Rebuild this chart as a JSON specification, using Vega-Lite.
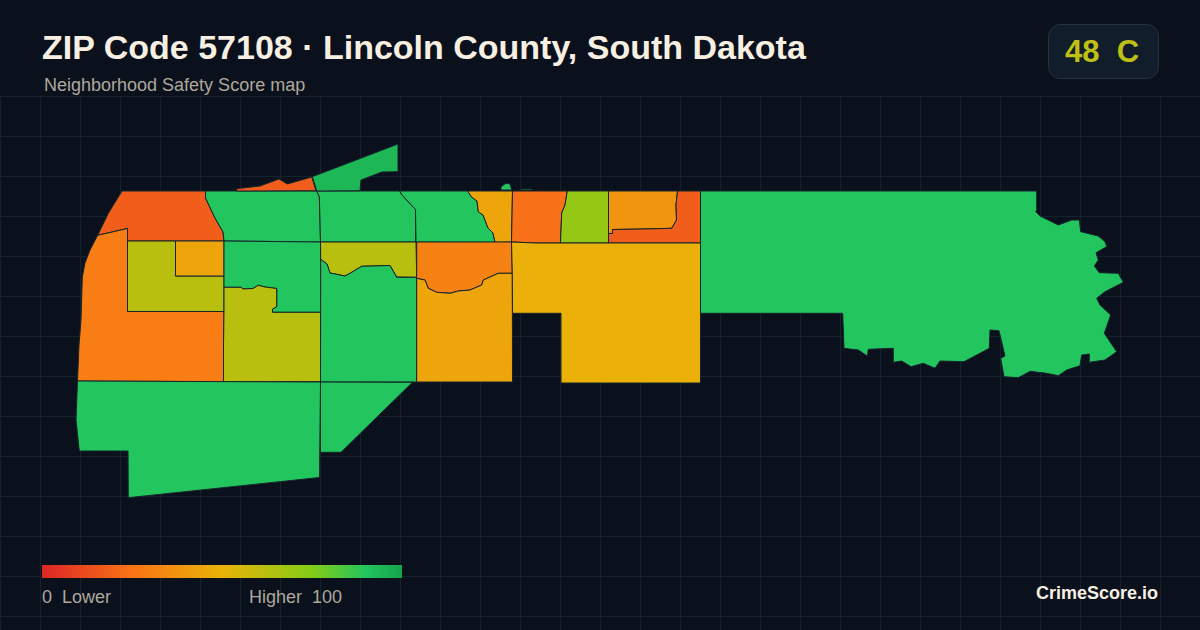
{
  "$schema": "https://vega.github.io/schema/vega-lite/v6.json",
  "width": 1200,
  "height": 630,
  "padding": 0,
  "autosize": "none",
  "background": "#0a111c",
  "data": {"values": [{}]},
  "layer": [
    {
      "mark": {"type": "rect", "fill": "#0a111c"},
      "encoding": {
        "x": {"datum": 0, "type": "quantitative", "scale": {"domain": [0, 1200], "nice": false, "zero": false},
          "axis": {"values": [0,40,80,120,160,200,240,280,320,360,400,440,480,520,560,600,640,680,720,760,800,840,880,920,960,1000,1040,1080,1120,1160],
            "grid": true, "gridColor": "#14232d", "gridWidth": 1, "labels": false, "ticks": false, "domain": false, "title": null}},
        "x2": {"datum": 1200},
        "y": {"datum": 0, "type": "quantitative", "scale": {"domain": [0, 630], "range": [0, 630], "nice": false, "zero": false},
          "axis": {"values": [96,136,176,216,256,296,336,376,416,456,496,536,576,616],
            "grid": true, "gridColor": "#14232d", "gridWidth": 1, "labels": false, "ticks": false, "domain": false, "title": null}},
        "y2": {"datum": 96}
      }
    },
    {
      "data": {"values": [
        {"type": "Feature", "properties": {"score": 18}, "geometry": {"type": "Polygon", "coordinates": [[[12.2,19.1],[20.55,19.1],[20.55,19.8],[21.5,21.8],[22.3,23.2],[22.4,24.1],[12.75,24.1],[12.75,22.85],[9.77,23.53],[10.83,21.33],[12.2,19.1]]]}},
        {"type": "Feature", "properties": {"score": 29}, "geometry": {"type": "Polygon", "coordinates": [[[9.77,23.53],[12.75,22.85],[12.75,31.15],[22.4,31.15],[22.35,34.5],[22.35,38.17],[7.75,38.1],[7.9,34.5],[8.1,32],[8.23,27.7],[8.5,26.3],[9,25],[9.77,23.53]]]}},
        {"type": "Feature", "properties": {"score": 62}, "geometry": {"type": "Polygon", "coordinates": [[[12.75,24.1],[17.55,24.1],[17.55,27.6],[22.4,27.6],[22.4,31.15],[12.75,31.15],[12.75,24.1]]]}},
        {"type": "Feature", "properties": {"score": 44}, "geometry": {"type": "Polygon", "coordinates": [[[17.55,24.1],[22.4,24.1],[22.4,27.6],[17.55,27.6],[17.55,24.1]]]}},
        {"type": "Feature", "properties": {"score": 90}, "geometry": {"type": "Polygon", "coordinates": [[[20.55,19.1],[31.67,19.1],[31.93,19.67],[32,22.1],[32.05,24.2],[27.25,24.2],[27.25,24.15],[22.4,24.1],[22.3,23.2],[21.5,21.8],[20.55,19.8],[20.55,19.1]]]}},
        {"type": "Feature", "properties": {"score": 90}, "geometry": {"type": "Polygon", "coordinates": [[[31.67,19.1],[39.97,19.1],[40.2,19.5],[41.55,20.95],[41.55,24.2],[32.05,24.2],[32,22.1],[31.93,19.67],[31.67,19.1]]]}},
        {"type": "Feature", "properties": {"score": 94}, "geometry": {"type": "Polygon", "coordinates": [[[31.23,17.67],[39.8,14.4],[39.8,17.17],[38.2,17.2],[36.1,18],[36,19.07],[31.67,19.1],[31.23,17.67]]]}},
        {"type": "Feature", "properties": {"score": 18}, "geometry": {"type": "Polygon", "coordinates": [[[23.67,18.87],[26,18.6],[27.9,17.9],[28.73,18.4],[31.17,17.7],[31.6,19.07],[23.67,19.1],[23.67,18.87]]]}},
        {"type": "Feature", "properties": {"score": 90}, "geometry": {"type": "Polygon", "coordinates": [[[22.4,24.1],[27.25,24.15],[32.05,24.2],[32.05,31.23],[27.25,31.23],[27.25,30.9],[27.67,30.67],[27.67,28.85],[26.5,28.7],[25.83,28.53],[25.3,28.85],[24.3,28.9],[24.1,28.73],[22.4,28.73],[22.4,24.1]]]}},
        {"type": "Feature", "properties": {"score": 62}, "geometry": {"type": "Polygon", "coordinates": [[[22.4,28.73],[24.1,28.73],[24.3,28.9],[25.3,28.85],[25.83,28.53],[26.5,28.7],[27.67,28.85],[27.67,30.67],[27.25,30.9],[27.25,31.23],[32.05,31.23],[32.05,38.17],[22.35,38.17],[22.35,34.5],[22.4,31.1],[22.4,28.73]]]}},
        {"type": "Feature", "properties": {"score": 62}, "geometry": {"type": "Polygon", "coordinates": [[[32.05,24.2],[41.6,24.2],[41.67,27.73],[39.67,27.7],[39,26.55],[36.17,26.63],[35,27.33],[34.5,27.6],[33,27.3],[32.7,26.4],[32.07,25.93],[32.05,24.2]]]}},
        {"type": "Feature", "properties": {"score": 90}, "geometry": {"type": "Polygon", "coordinates": [[[32.07,25.93],[32.7,26.4],[33,27.3],[34.5,27.6],[35,27.33],[36.17,26.63],[39,26.55],[39.67,27.73],[41.67,27.73],[41.67,38.2],[32.05,38.2],[32.07,25.93]]]}},
        {"type": "Feature", "properties": {"score": 90}, "geometry": {"type": "Polygon", "coordinates": [[[7.75,38.1],[32.05,38.2],[31.95,47.75],[12.83,49.77],[12.8,45.1],[7.93,45.1],[7.6,42],[7.75,38.1]]]}},
        {"type": "Feature", "properties": {"score": 90}, "geometry": {"type": "Polygon", "coordinates": [[[32.05,38.2],[41.25,38.23],[34.1,45.23],[32.05,45.23],[32.05,38.2]]]}},
        {"type": "Feature", "properties": {"score": 90}, "geometry": {"type": "Polygon", "coordinates": [[[39.97,19.1],[46.77,19.1],[47.15,19.7],[47.7,20.1],[47.83,21.17],[48.3,21.5],[48.8,22.8],[49.3,23.3],[49.5,24.23],[41.6,24.2],[41.55,20.95],[40.2,19.5],[39.97,19.1]]]}},
        {"type": "Feature", "properties": {"score": 44}, "geometry": {"type": "Polygon", "coordinates": [[[46.77,19.1],[51.25,19.1],[51.15,24.2],[49.5,24.23],[49.3,23.3],[48.8,22.8],[48.3,21.5],[47.83,21.17],[47.7,20.1],[47.15,19.7],[46.77,19.1]]]}},
        {"type": "Feature", "properties": {"score": 24}, "geometry": {"type": "Polygon", "coordinates": [[[51.25,19.1],[56.73,19.1],[56.5,20.5],[56.17,21.3],[56.05,24.3],[53.6,24.3],[51.15,24.2],[51.25,19.1]]]}},
        {"type": "Feature", "properties": {"score": 71}, "geometry": {"type": "Polygon", "coordinates": [[[56.73,19.1],[60.85,19.1],[60.85,24.3],[56.05,24.3],[56.17,21.3],[56.5,20.5],[56.73,19.1]]]}},
        {"type": "Feature", "properties": {"score": 38}, "geometry": {"type": "Polygon", "coordinates": [[[60.85,19.1],[67.75,19.1],[67.6,20.5],[67.65,22],[67.17,22.83],[64.3,22.9],[61.25,22.95],[61.25,23.35],[60.85,23.35],[60.85,19.1]]]}},
        {"type": "Feature", "properties": {"score": 18}, "geometry": {"type": "Polygon", "coordinates": [[[67.75,19.1],[70.05,19.1],[70.05,24.3],[60.85,24.3],[60.85,23.35],[61.25,23.35],[61.25,22.95],[64.3,22.9],[67.17,22.83],[67.65,22],[67.6,20.5],[67.75,19.1]]]}},
        {"type": "Feature", "properties": {"score": 31}, "geometry": {"type": "Polygon", "coordinates": [[[41.67,24.2],[51.15,24.2],[51.23,27.33],[49.83,27.33],[48.33,28],[48.17,28.5],[47,29],[45.83,29.1],[45,29.33],[43.67,29.23],[42.83,28.83],[42.5,28],[41.67,27.83],[41.67,24.2]]]}},
        {"type": "Feature", "properties": {"score": 44}, "geometry": {"type": "Polygon", "coordinates": [[[41.67,27.83],[42.5,28],[42.83,28.83],[43.67,29.23],[45,29.33],[45.83,29.1],[47,29],[48.17,28.5],[48.33,28],[49.83,27.33],[51.23,27.33],[51.25,38.2],[41.67,38.2],[41.67,27.83]]]}},
        {"type": "Feature", "properties": {"score": 49}, "geometry": {"type": "Polygon", "coordinates": [[[51.15,24.2],[53.6,24.3],[70.05,24.3],[70.05,38.3],[56.1,38.3],[56.1,31.33],[51.25,31.33],[51.23,27.33],[51.15,24.2]]]}},
        {"type": "Feature", "properties": {"score": 90}, "geometry": {"type": "Polygon", "coordinates": [[[50.1,18.67],[50.6,18.33],[51,18.4],[51.17,19],[50.1,19],[50.1,18.67]]]}},
        {"type": "Feature", "properties": {"score": 90}, "geometry": {"type": "Polygon", "coordinates": [[[52.07,19],[52.1,18.9],[53.2,18.9],[53.23,19],[52.07,19]]]}},
        {"type": "Feature", "properties": {"score": 90}, "geometry": {"type": "Polygon", "coordinates": [[[70.05,19.1],[103.67,19.1],[103.67,21],[103.57,21.17],[104,21.6],[105.83,22.5],[107.17,22],[107.93,22],[108.07,23.17],[109.83,23.6],[110.5,24.17],[110.67,24.67],[109.6,25.27],[109.83,26],[109.43,26.6],[109.93,27.27],[111.83,27.33],[112.33,28.23],[110.5,29.17],[109.67,29.83],[110,30.5],[111.07,31.5],[110.43,33.33],[111.67,35.17],[110.5,36],[108.93,36.23],[108.93,35.4],[108.17,35.5],[108,36.57],[106.67,37],[105.83,37.57],[104.67,37.33],[103,37.13],[101.83,37.77],[100.4,37.67],[100.07,35.83],[100.5,35.6],[99.9,33.07],[99,33],[98.93,34.83],[97.67,35.5],[96.4,36.17],[94,36.1],[93.5,36.83],[92.33,36.33],[91.1,36.67],[90.17,36.1],[89.33,36.23],[89.33,34.83],[86.83,34.93],[86.73,35.6],[85.83,35],[84.4,34.83],[84.27,31.33],[70.05,31.33],[70.05,19.1]]]}}
      ]},
      "mark": {"type": "geoshape", "stroke": "#16242b", "strokeWidth": 1},
      "projection": {"type": "identity", "scale": 10, "translate": [0, 0]},
      "encoding": {
        "color": {
          "field": "properties.score",
          "type": "quantitative",
          "scale": {"domain": [0, 25, 50, 75, 90, 100], "range": ["#dc2626", "#f97316", "#eab308", "#84cc16", "#22c55e", "#16a34a"], "interpolate": "rgb"},
          "legend": {"orient": "none", "legendX": 42, "legendY": 565, "direction": "horizontal", "gradientLength": 360, "gradientThickness": 13, "gradientStrokeWidth": 0, "labelOpacity": 0, "labelFontSize": 1, "title": null}
        }
      }
    },
    {"mark": {"type": "text", "x": 42, "y": 58.5, "align": "left", "baseline": "alphabetic", "font": "Liberation Sans", "fontSize": 34, "fontWeight": "bold", "fill": "#f7efe2", "text": "ZIP Code 57108 · Lincoln County, South Dakota"}},
    {"mark": {"type": "text", "x": 44, "y": 91, "align": "left", "baseline": "alphabetic", "font": "Liberation Sans", "fontSize": 18, "fill": "#aea89c", "text": "Neighborhood Safety Score map"}},
    {"mark": {"type": "rect", "x": 1048.5, "x2": 1158.5, "y": 24.5, "y2": 78.5, "cornerRadius": 12, "fill": "#111d2b", "stroke": "#26323f", "strokeWidth": 1}},
    {"mark": {"type": "text", "x": 1065, "y": 62, "align": "left", "baseline": "alphabetic", "font": "Liberation Sans", "fontSize": 31, "fontWeight": "bold", "fill": "#bfc015", "text": "48\u00a0\u00a0C"}},
    {"mark": {"type": "text", "x": 42, "y": 603, "align": "left", "baseline": "alphabetic", "font": "Liberation Sans", "fontSize": 18, "fill": "#aea89c", "text": "0\u00a0\u00a0Lower"}},
    {"mark": {"type": "text", "x": 249, "y": 603, "align": "left", "baseline": "alphabetic", "font": "Liberation Sans", "fontSize": 18, "fill": "#aea89c", "text": "Higher\u00a0\u00a0100"}},
    {"mark": {"type": "text", "x": 1158, "y": 599, "align": "right", "baseline": "alphabetic", "font": "Liberation Sans", "fontSize": 18, "fontWeight": "bold", "fill": "#f7efe2", "text": "CrimeScore.io"}}
  ],
  "config": {"view": {"stroke": null}}
}
